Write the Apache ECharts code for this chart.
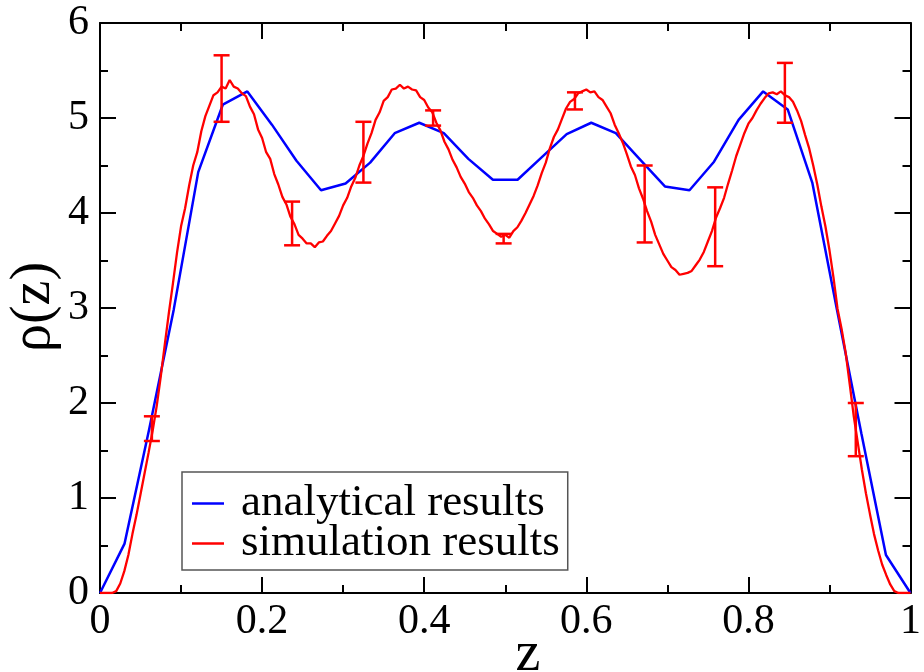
<!DOCTYPE html>
<html>
<head>
<meta charset="utf-8">
<script src="https://cdn.jsdelivr.net/npm/echarts@6/dist/echarts.min.js"></script>
<style>
  html, body { margin: 0; padding: 0; background: #ffffff; }
  #chart { width: 924px; height: 672px; }
</style>
</head>
<body>
<div id="chart"></div>
<script>
// Analytical density profile (piecewise linear, 34 nodes)
const analyticalZ = [0, 0.0303, 0.0606, 0.0909, 0.1212, 0.1515, 0.1818, 0.2121, 0.2424, 0.2727,
  0.3030, 0.3333, 0.3636, 0.3939, 0.4242, 0.4545, 0.4848, 0.5152, 0.5455, 0.5758,
  0.6061, 0.6364, 0.6667, 0.6970, 0.7273, 0.7576, 0.7879, 0.8182, 0.8485, 0.8788,
  0.9091, 0.9394, 0.9697, 1.0];
const analyticalRho = [0, 0.52, 1.72, 2.98, 4.43, 5.14, 5.28, 4.93, 4.55, 4.24,
  4.31, 4.53, 4.84, 4.95, 4.84, 4.57, 4.35, 4.35, 4.59, 4.83,
  4.95, 4.84, 4.56, 4.28, 4.24, 4.54, 4.98, 5.28, 5.09, 4.32,
  2.99, 1.68, 0.40, 0];

// Simulated density profile, sampled every 0.005 in z
const simulationZ = [
  0.000, 0.005, 0.010, 0.015, 0.020, 0.025, 0.030, 0.035, 0.040, 0.045,
  0.050, 0.055, 0.060, 0.065, 0.070, 0.075, 0.080, 0.085, 0.090, 0.095,
  0.100, 0.105, 0.110, 0.115, 0.120, 0.125, 0.130, 0.135, 0.140, 0.145,
  0.150, 0.155, 0.160, 0.165, 0.170, 0.175, 0.180, 0.185, 0.190, 0.195,
  0.200, 0.205, 0.210, 0.215, 0.220, 0.225, 0.230, 0.235, 0.240, 0.245,
  0.250, 0.255, 0.260, 0.265, 0.270, 0.275, 0.280, 0.285, 0.290, 0.295,
  0.300, 0.305, 0.310, 0.315, 0.320, 0.325, 0.330, 0.335, 0.340, 0.345,
  0.350, 0.355, 0.360, 0.365, 0.370, 0.375, 0.380, 0.385, 0.390, 0.395,
  0.400, 0.405, 0.410, 0.415, 0.420, 0.425, 0.430, 0.435, 0.440, 0.445,
  0.450, 0.455, 0.460, 0.465, 0.470, 0.475, 0.480, 0.485, 0.490, 0.495,
  0.500, 0.505, 0.510, 0.515, 0.520, 0.525, 0.530, 0.535, 0.540, 0.545,
  0.550, 0.555, 0.560, 0.565, 0.570, 0.575, 0.580, 0.585, 0.590, 0.595,
  0.600, 0.605, 0.610, 0.615, 0.620, 0.625, 0.630, 0.635, 0.640, 0.645,
  0.650, 0.655, 0.660, 0.665, 0.670, 0.675, 0.680, 0.685, 0.690, 0.695,
  0.700, 0.705, 0.710, 0.715, 0.720, 0.725, 0.730, 0.735, 0.740, 0.745,
  0.750, 0.755, 0.760, 0.765, 0.770, 0.775, 0.780, 0.785, 0.790, 0.795,
  0.800, 0.805, 0.810, 0.815, 0.820, 0.825, 0.830, 0.835, 0.840, 0.845,
  0.850, 0.855, 0.860, 0.865, 0.870, 0.875, 0.880, 0.885, 0.890, 0.895,
  0.900, 0.905, 0.910, 0.915, 0.920, 0.925, 0.930, 0.935, 0.940, 0.945,
  0.950, 0.955, 0.960, 0.965, 0.970, 0.975, 0.980, 0.985, 0.990, 0.995,
  1.000];
const simulationRho = [
  0, 0, 0, 0, 0.02, 0.10, 0.23, 0.40, 0.62, 0.82,
  1.04, 1.26, 1.48, 1.71, 1.97, 2.28, 2.62, 2.95, 3.26, 3.58,
  3.86, 4.05, 4.29, 4.50, 4.64, 4.86, 5.02, 5.13, 5.24, 5.27,
  5.33, 5.31, 5.40, 5.33, 5.31, 5.26, 5.23, 5.12, 5.04, 4.88,
  4.79, 4.64, 4.57, 4.41, 4.30, 4.17, 4.09, 3.96, 3.88, 3.77,
  3.73, 3.68, 3.68, 3.64, 3.69, 3.70, 3.76, 3.81, 3.89, 3.97,
  4.08, 4.16, 4.28, 4.37, 4.50, 4.60, 4.73, 4.84, 4.98, 5.06,
  5.18, 5.22, 5.30, 5.31, 5.35, 5.31, 5.33, 5.30, 5.29, 5.22,
  5.19, 5.11, 5.06, 4.95, 4.87, 4.75, 4.67, 4.56, 4.48, 4.38,
  4.31, 4.22, 4.16, 4.08, 4.02, 3.94, 3.88, 3.81, 3.78, 3.75,
  3.77, 3.74, 3.81, 3.85, 3.92, 4.00, 4.09, 4.18, 4.29, 4.42,
  4.53, 4.68, 4.80, 4.88, 4.99, 5.10, 5.17, 5.20, 5.26, 5.28,
  5.30, 5.27, 5.28, 5.22, 5.19, 5.12, 5.05, 4.93, 4.84, 4.74,
  4.62, 4.49, 4.40, 4.26, 4.15, 4.02, 3.91, 3.77, 3.67, 3.57,
  3.50, 3.43, 3.40, 3.35, 3.36, 3.37, 3.39, 3.45, 3.51, 3.59,
  3.70, 3.81, 3.95, 4.05, 4.16, 4.31, 4.45, 4.60, 4.72, 4.84,
  4.94, 5.00, 5.08, 5.15, 5.21, 5.26, 5.27, 5.25, 5.28, 5.24,
  5.22, 5.17, 5.08, 4.97, 4.82, 4.68, 4.50, 4.30, 4.07, 3.86,
  3.61, 3.32, 2.99, 2.78, 2.53, 2.20, 1.86, 1.58, 1.30, 1.05,
  0.83, 0.62, 0.45, 0.30, 0.19, 0.09, 0.02, 0, 0, 0,
  0];

// Error bars on the simulation
const errorZ = [0.064, 0.150, 0.237, 0.325, 0.411, 0.498, 0.586, 0.672, 0.759, 0.845, 0.9325];
const errorLow = [1.60, 4.96, 3.66, 4.32, 4.92, 3.68, 5.09, 3.69, 3.44, 4.95, 1.44];
const errorHigh = [1.86, 5.66, 4.12, 4.96, 5.08, 3.78, 5.27, 4.50, 4.27, 5.58, 2.00];

const xTicks = [0, 0.2, 0.4, 0.6, 0.8, 1];
const xTickLabels = ['0', '0.2', '0.4', '0.6', '0.8', '1'];
const yTickLabels = ['0', '1', '2', '3', '4', '5', '6'];

const seriesNames = ['analytical results', 'simulation results'];

const FONT = 'Liberation Serif';
const chart = echarts.init(document.getElementById('chart'), null, { renderer: 'canvas' });

const pairs = (xs, ys) => xs.map((x, i) => [x, ys[i]]);

const frameAxis = (extra) => Object.assign({
  type: 'value',
  axisLine: { show: true, onZero: false, lineStyle: { color: '#000', width: 2 } },
  axisTick: { show: true, inside: true, length: 16, lineStyle: { color: '#000', width: 2 } },
  minorTick: { show: true, splitNumber: 2, length: 8, lineStyle: { color: '#000', width: 2 } },
  splitLine: { show: false },
  minorSplitLine: { show: false }
}, extra);

const xLabel = {
  show: true, margin: 8, color: '#000', fontFamily: FONT, fontSize: 42,
  formatter: v => { const i = xTicks.findIndex(t => Math.abs(t - v) < 1e-9); return i >= 0 ? xTickLabels[i] : ''; }
};
const yLabel = {
  show: true, margin: 11, color: '#000', fontFamily: FONT, fontSize: 42,
  formatter: v => yTickLabels[Math.round(v)]
};

chart.setOption({
  animation: false,
  backgroundColor: '#ffffff',
  grid: { left: 100, right: 9, top: 23, bottom: 79, containLabel: false },
  xAxis: [
    frameAxis({ min: 0, max: 1, interval: 0.2, position: 'bottom', axisLabel: xLabel }),
    frameAxis({ min: 0, max: 1, interval: 0.2, position: 'top', axisLabel: { show: false } })
  ],
  yAxis: [
    frameAxis({ min: 0, max: 6, interval: 1, position: 'left', axisLabel: yLabel }),
    frameAxis({ min: 0, max: 6, interval: 1, position: 'right', axisLabel: { show: false } })
  ],
  legend: {
    left: 182, top: 472,
    orient: 'vertical',
    data: seriesNames,
    icon: 'rect',
    itemWidth: 32, itemHeight: 2.5, itemGap: -5,
    padding: [9, 8, 4, 10],
    borderColor: '#555', borderWidth: 1.5,
    backgroundColor: '#fff',
    textStyle: { fontFamily: FONT, fontSize: 45, color: '#000', padding: [0, 0, 0, 12] }
  },
  graphic: [
    { type: 'text', x: 528, y: 655, style: { text: 'z', font: '56px "Liberation Serif"', fill: '#000', textAlign: 'center', textVerticalAlign: 'middle' } },
    { type: 'text', x: 34, y: 307, rotation: Math.PI / 2, style: { text: 'ρ(z)', font: '56px "Liberation Serif"', fill: '#000', textAlign: 'center', textVerticalAlign: 'middle' } }
  ],
  series: [
    {
      name: seriesNames[0], type: 'line', xAxisIndex: 0, yAxisIndex: 0,
      data: pairs(analyticalZ, analyticalRho),
      showSymbol: false, symbol: 'none',
      lineStyle: { color: '#0000ff', width: 2.5 }, itemStyle: { color: '#0000ff' }, z: 3
    },
    {
      name: seriesNames[1], type: 'line', xAxisIndex: 0, yAxisIndex: 0,
      data: pairs(simulationZ, simulationRho),
      showSymbol: false, symbol: 'none',
      lineStyle: { color: '#ff0000', width: 2.3 }, itemStyle: { color: '#ff0000' }, z: 4
    },
    {
      name: 'error', type: 'custom', xAxisIndex: 0, yAxisIndex: 0, z: 5,
      data: errorZ.map((x, i) => [x, errorLow[i], errorHigh[i]]),
      renderItem: (params, api) => {
        const lo = api.coord([api.value(0), api.value(1)]);
        const hi = api.coord([api.value(0), api.value(2)]);
        const half = 8;
        const style = { stroke: '#ff0000', lineWidth: 2.5, fill: null };
        return {
          type: 'group',
          children: [
            { type: 'line', shape: { x1: lo[0], y1: lo[1], x2: hi[0], y2: hi[1] }, style },
            { type: 'line', shape: { x1: lo[0] - half, y1: lo[1], x2: lo[0] + half, y2: lo[1] }, style },
            { type: 'line', shape: { x1: hi[0] - half, y1: hi[1], x2: hi[0] + half, y2: hi[1] }, style }
          ]
        };
      }
    }
  ]
});
</script>
</body>
</html>
